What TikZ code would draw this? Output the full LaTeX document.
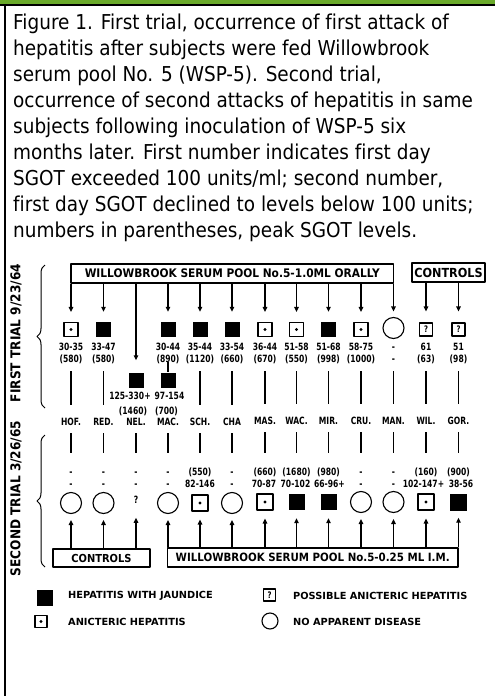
\documentclass[tikz,border=0pt]{standalone}
\usepackage{fontspec}
\usetikzlibrary{arrows.meta,decorations.pathreplacing}
\setmainfont{DejaVu Sans}
\newfontfamily\fdida[FakeStretch=0.9,Ligatures=NoCommon]{DejaVu Sans}
\newfontfamily\flarga[FakeStretch=0.9]{DejaVu Sans}
\newfontfamily\fstretta[FakeStretch=0.76]{DejaVu Sans}
\definecolor{verdebordo}{RGB}{106,170,42}

\begin{document}
\begin{tikzpicture}[x=1pt,y=-1pt,line join=round,
    dida/.style={anchor=base west,inner sep=0pt,font=\fdida\fontsize{20.5}{26}\selectfont},
    cifra/.style={inner sep=0pt,text height=7.3pt,text depth=0pt,
                  font=\fstretta\bfseries\fontsize{10}{10}\selectfont},
    scatola/.style={draw,line width=1.2pt,inner sep=0pt,minimum height=19pt},
    itt/.style={fill,minimum size=15pt,inner sep=0pt},
    anit/.style={draw,line width=1.1pt,minimum size=14pt,inner sep=0pt,
                 path picture={\fill (path picture bounding box.center) circle (1.7pt);}},
    poss/.style={draw,line width=1.1pt,minimum size=13pt,inner sep=0pt,
                 font=\fstretta\bfseries\fontsize{9}{9}\selectfont},
    sano/.style={circle,draw,line width=1.1pt,minimum size=21pt,inner sep=0pt},
    freccia/.style={line width=1.3pt,-{Triangle[length=5pt,width=4.5pt]}},
    asta/.style={line width=1.3pt},
    asta1/.style={asta,shorten <=9pt,shorten >=13pt},
    asta2/.style={asta,shorten <=7.5pt,shorten >=15pt},
    graffa/.style={decorate,decoration={brace,amplitude=8pt},line width=1pt},
    leg/.style={anchor=west,inner sep=0pt,font=\bfseries\fontsize{9.8}{9.8}\selectfont}]

  \useasboundingbox (0,0) rectangle (495,696);

  % ============================ cornice ====================================
  \fill[verdebordo] (0,0) rectangle (495,3.5);
  \draw[line width=2pt] (0,4.6) -- (495,4.6);
  \draw[line width=2pt] (4.8,4.6) -- (4.8,696);

  % ============================ didascalia =================================
  \node[dida] (d1) at (13, 29.5) {Figure 1. First trial, occurrence of first attack of};
  \node[dida] (d2) at (13, 55.5) {hepatitis after subjects were fed Willowbrook};
  \node[dida] (d3) at (13, 81.5) {serum pool No. 5 (WSP-5). Second trial,};
  \node[dida] (d4) at (13,107.5) {occurrence of second attacks of hepatitis in same};
  \node[dida] (d5) at (13,133.5) {subjects following inoculation of WSP-5 six};
  \node[dida] (d6) at (13,159.5) {months later. First number indicates first day};
  \node[dida] (d7) at (13,185.5) {SGOT exceeded 100 units/ml; second number,};
  \node[dida] (d8) at (13,211.5) {first day SGOT declined to levels below 100 units;};
  \node[dida] (d9) at (13,237.5) {numbers in parentheses, peak SGOT levels.};

  % ======================= etichette laterali e graffe =====================
  \node[rotate=90,font=\flarga\bfseries\fontsize{13.5}{13.5}\selectfont] (lab1) at (16,333)   {FIRST TRIAL 9/23/64};
  \node[rotate=90,font=\flarga\bfseries\fontsize{13.5}{13.5}\selectfont] (lab2) at (16,498.5) {SECOND TRIAL 3/26/65};
  \draw[graffa] (45,408) -- (45,265);
  \draw[graffa] (45,567) -- (45,435);

  % ======================= primo trial: 9/23/64 ============================
  \node[scatola,minimum width=322.5pt,font=\flarga\bfseries\fontsize{11.8}{11.8}\selectfont]
       (pool1) at (232.25,273.5) {WILLOWBROOK SERUM POOL No.5-1.0ML ORALLY};
  \node[scatola,minimum width=73pt,font=\flarga\bfseries\fontsize{12.5}{12.5}\selectfont]
       (ctrl1) at (448.5,272.5) {CONTROLS};

  \node[anit] (a1)  at ( 71.0,329.5) {};   % HOF.
  \node[itt]  (a2)  at (103.5,329.5) {};   % RED.
  \node[itt]  (a4)  at (168.0,329.5) {};   % MAC.
  \node[itt]  (a5)  at (200.0,329.5) {};   % SCH.
  \node[itt]  (a6)  at (232.0,329.5) {};   % CHA
  \node[anit] (a7)  at (265.0,329.5) {};   % MAS.
  \node[anit] (a8)  at (296.5,329.5) {};   % WAC.
  \node[itt]  (a9)  at (328.5,329.5) {};   % MIR.
  \node[anit] (a10) at (361.0,329.5) {};   % CRU.
  \node[sano] (a11) at (393.5,328.0) {};   % MAN.
  \node[poss] (a12) at (426.0,329.5) {?};  % WIL.
  \node[poss] (a13) at (458.5,329.5) {?};  % GOR.
  \node[itt]  (b3)  at (136.0,380.0) {};   % NEL., piu' in basso
  \node[itt]  (b4)  at (168.0,380.0) {};   % secondo quadrato sotto MAC.

  \node[cifra] (u1)  at ( 71.0,347) {30-35};  \node[cifra] (v1)  at ( 71.0,358.5) {(580)};
  \node[cifra] (u2)  at (103.5,347) {33-47};  \node[cifra] (v2)  at (103.5,358.5) {(580)};
  \node[cifra] (u4)  at (168.0,347) {30-44};  \node[cifra] (v4)  at (168.0,358.5) {(890)};
  \node[cifra] (u5)  at (200.0,347) {35-44};  \node[cifra] (v5)  at (200.0,358.5) {(1120)};
  \node[cifra] (u6)  at (232.0,347) {33-54};  \node[cifra] (v6)  at (232.0,358.5) {(660)};
  \node[cifra] (u7)  at (265.0,347) {36-44};  \node[cifra] (v7)  at (265.0,358.5) {(670)};
  \node[cifra] (u8)  at (296.5,347) {51-58};  \node[cifra] (v8)  at (296.5,358.5) {(550)};
  \node[cifra] (u9)  at (328.5,347) {51-68};  \node[cifra] (v9)  at (328.5,358.5) {(998)};
  \node[cifra] (u10) at (361.0,347) {58-75};  \node[cifra] (v10) at (361.0,358.5) {(1000)};
  \node[cifra] (u11) at (393.5,347) {-};      \node[cifra] (v11) at (393.5,358.5) {-};
  \node[cifra] (u12) at (426.0,347) {61};     \node[cifra] (v12) at (426.0,358.5) {(63)};
  \node[cifra] (u13) at (458.5,347) {51};     \node[cifra] (v13) at (458.5,358.5) {(98)};
  \node[cifra] (p3)  at (130.0,396) {125-330+}; \node[cifra] (q3) at (133.0,410.5) {(1460)};
  \node[cifra] (p4)  at (169.5,396) {97-154};   \node[cifra] (q4) at (166.5,410.5) {(700)};

  \draw[freccia,shorten >=10pt] (pool1.south -| a1) -- (a1.north);
  \draw[freccia,shorten >=10pt] (pool1.south -| a2) -- (a2.north);
  \draw[freccia,shorten >=12pt] (pool1.south -| b3) -- (b3.north);
  \draw[freccia,shorten >=10pt] (pool1.south -| a4) -- (a4.north);
  \draw[freccia,shorten >=10pt] (pool1.south -| a5) -- (a5.north);
  \draw[freccia,shorten >=10pt] (pool1.south -| a6) -- (a6.north);
  \draw[freccia,shorten >=10pt] (pool1.south -| a7) -- (a7.north);
  \draw[freccia,shorten >=10pt] (pool1.south -| a8) -- (a8.north);
  \draw[freccia,shorten >=10pt] (pool1.south -| a9) -- (a9.north);
  \draw[freccia,shorten >=10pt] (pool1.south -| a10) -- (a10.north);
  \draw[freccia,shorten >=5.5pt] (pool1.south -| a11) -- (a11.north);
  \draw[freccia,shorten >=11pt] (ctrl1.south -| a12) -- (a12.north);
  \draw[freccia,shorten >=11pt] (ctrl1.south -| a13) -- (a13.north);

  % ========================= nomi dei soggetti =============================
  \node[cifra] (n1)  at ( 71.0,422) {HOF.};
  \node[cifra] (n2)  at (103.5,422) {RED.};
  \node[cifra] (n3)  at (136.0,422) {NEL.};
  \node[cifra] (n4)  at (168.0,422) {MAC.};
  \node[cifra] (n5)  at (200.0,422) {SCH.};
  \node[cifra] (n6)  at (232.0,422) {CHA};
  \node[cifra] (n7)  at (265.0,421) {MAS.};
  \node[cifra] (n8)  at (296.5,421) {WAC.};
  \node[cifra] (n9)  at (328.5,421) {MIR.};
  \node[cifra] (n10) at (361.0,421) {CRU.};
  \node[cifra] (n11) at (393.5,421) {MAN.};
  \node[cifra] (n12) at (426.0,421) {WIL.};
  \node[cifra] (n13) at (458.5,421) {GOR.};

  \draw[asta]  (v4) -- (b4);
  \draw[asta1] (v1) -- (n1);
  \draw[asta1] (v2) -- (n2);
  \draw[asta1] (v5) -- (n5);
  \draw[asta1] (v6) -- (n6);
  \draw[asta1] (v7) -- (n7);
  \draw[asta1] (v8) -- (n8);
  \draw[asta1] (v9) -- (n9);
  \draw[asta1] (v10) -- (n10);
  \draw[asta1] (v11) -- (n11);
  \draw[asta1] (v12) -- (n12);
  \draw[asta1] (v13) -- (n13);

  % ======================= secondo trial: 3/26/65 ==========================
  \node[cifra] (r1)  at ( 71.0,472) {-};      \node[cifra] (t1)  at ( 71.0,484) {-};
  \node[cifra] (r2)  at (103.5,472) {-};      \node[cifra] (t2)  at (103.5,484) {-};
  \node[cifra] (r3)  at (136.0,472) {-};      \node[cifra] (t3)  at (136.0,484) {-};
  \node[cifra] (r4)  at (168.0,472) {-};      \node[cifra] (t4)  at (168.0,484) {-};
  \node[cifra] (r5)  at (200.0,472) {(550)};  \node[cifra] (t5)  at (200.0,484) {82-146};
  \node[cifra] (r6)  at (232.0,472) {-};      \node[cifra] (t6)  at (232.0,484) {-};
  \node[cifra] (r7)  at (265.0,472) {(660)};  \node[cifra] (t7)  at (264.0,484) {70-87};
  \node[cifra] (r8)  at (296.5,472) {(1680)}; \node[cifra] (t8)  at (295.5,484) {70-102};
  \node[cifra] (r9)  at (328.5,472) {(980)};  \node[cifra] (t9)  at (329.5,484) {66-96+};
  \node[cifra] (r10) at (361.0,472) {-};      \node[cifra] (t10) at (361.0,484) {-};
  \node[cifra] (r11) at (393.5,472) {-};      \node[cifra] (t11) at (393.5,484) {-};
  \node[cifra] (r12) at (426.0,472) {(160)};  \node[cifra] (t12) at (423.5,484) {102-147+};
  \node[cifra] (r13) at (458.5,472) {(900)};  \node[cifra] (t13) at (461.0,484) {38-56};

  \draw[asta2] (n1) -- (r1);
  \draw[asta2] (n2) -- (r2);
  \draw[asta2] (n3) -- (r3);
  \draw[asta2] (n4) -- (r4);
  \draw[asta2] (n5) -- (r5);
  \draw[asta2] (n6) -- (r6);
  \draw[asta2] (n7) -- (r7);
  \draw[asta2] (n8) -- (r8);
  \draw[asta2] (n9) -- (r9);
  \draw[asta2] (n10) -- (r10);
  \draw[asta2] (n11) -- (r11);
  \draw[asta2] (n12) -- (r12);
  \draw[asta2] (n13) -- (r13);

  \node[sano] (s1)  at ( 71.0,503) {};
  \node[sano] (s2)  at (103.5,503) {};
  \node[cifra] (s3) at (136.0,500) {?};
  \node[sano] (s4)  at (168.0,503) {};
  \node[anit,minimum size=16pt] (s5)  at (200.0,503) {};
  \node[sano] (s6)  at (232.0,503) {};
  \node[anit,minimum size=16pt] (s7)  at (265.0,502) {};
  \node[itt,minimum size=16pt]  (s8)  at (296.5,502) {};
  \node[itt,minimum size=16pt]  (s9)  at (328.5,502) {};
  \node[sano] (s10) at (361.0,502) {};
  \node[sano] (s11) at (393.5,502) {};
  \node[anit,minimum size=16pt] (s12) at (426.0,502) {};
  \node[itt,minimum size=17pt]  (s13) at (458.5,502) {};

  \node[scatola,minimum width=97pt,minimum height=18pt,font=\flarga\bfseries\fontsize{11}{11}\selectfont]
       (ctrl2) at (101.5,558) {CONTROLS};
  \node[scatola,minimum width=290.5pt,font=\flarga\bfseries\fontsize{11.4}{11.4}\selectfont]
       (pool2) at (312.75,557.5) {WILLOWBROOK SERUM POOL No.5-0.25 ML I.M.};

  \draw[freccia,shorten >=6pt]  (ctrl2.north -| s1) -- (s1);
  \draw[freccia,shorten >=6pt]  (ctrl2.north -| s2) -- (s2);
  \draw[freccia,shorten >=14pt] (ctrl2.north -| s3) -- (s3);
  \draw[freccia,shorten >=6pt]  (pool2.north -| s4) -- (s4);
  \draw[freccia,shorten >=8pt]  (pool2.north -| s5) -- (s5);
  \draw[freccia,shorten >=6pt]  (pool2.north -| s6) -- (s6);
  \draw[freccia,shorten >=8pt]  (pool2.north -| s7) -- (s7);
  \draw[freccia,shorten >=8pt]  (pool2.north -| s8) -- (s8);
  \draw[freccia,shorten >=8pt]  (pool2.north -| s9) -- (s9);
  \draw[freccia,shorten >=6pt]  (pool2.north -| s10) -- (s10);
  \draw[freccia,shorten >=6pt]  (pool2.north -| s11) -- (s11);
  \draw[freccia,shorten >=8pt]  (pool2.north -| s12) -- (s12);
  \draw[freccia,shorten >=7pt]  (pool2.north -| s13) -- (s13);

  % ============================== legenda ==================================
  \node[itt,minimum size=16pt]  (g1) at ( 44.5,598.0) {};
  \node[leg] (e1) at ( 68,596) {HEPATITIS WITH JAUNDICE};
  \node[anit,minimum size=12pt] (g2) at ( 41.0,621.5) {};
  \node[leg] (e2) at ( 68,622) {ANICTERIC HEPATITIS};
  \node[poss,minimum size=12pt] (g3) at (269.5,595.0) {?};
  \node[leg] (e3) at (293,596) {POSSIBLE ANICTERIC HEPATITIS};
  \node[sano,minimum size=16pt] (g4) at (270.0,621.0) {};
  \node[leg] (e4) at (293,622) {NO APPARENT DISEASE};

\end{tikzpicture}
\end{document}
